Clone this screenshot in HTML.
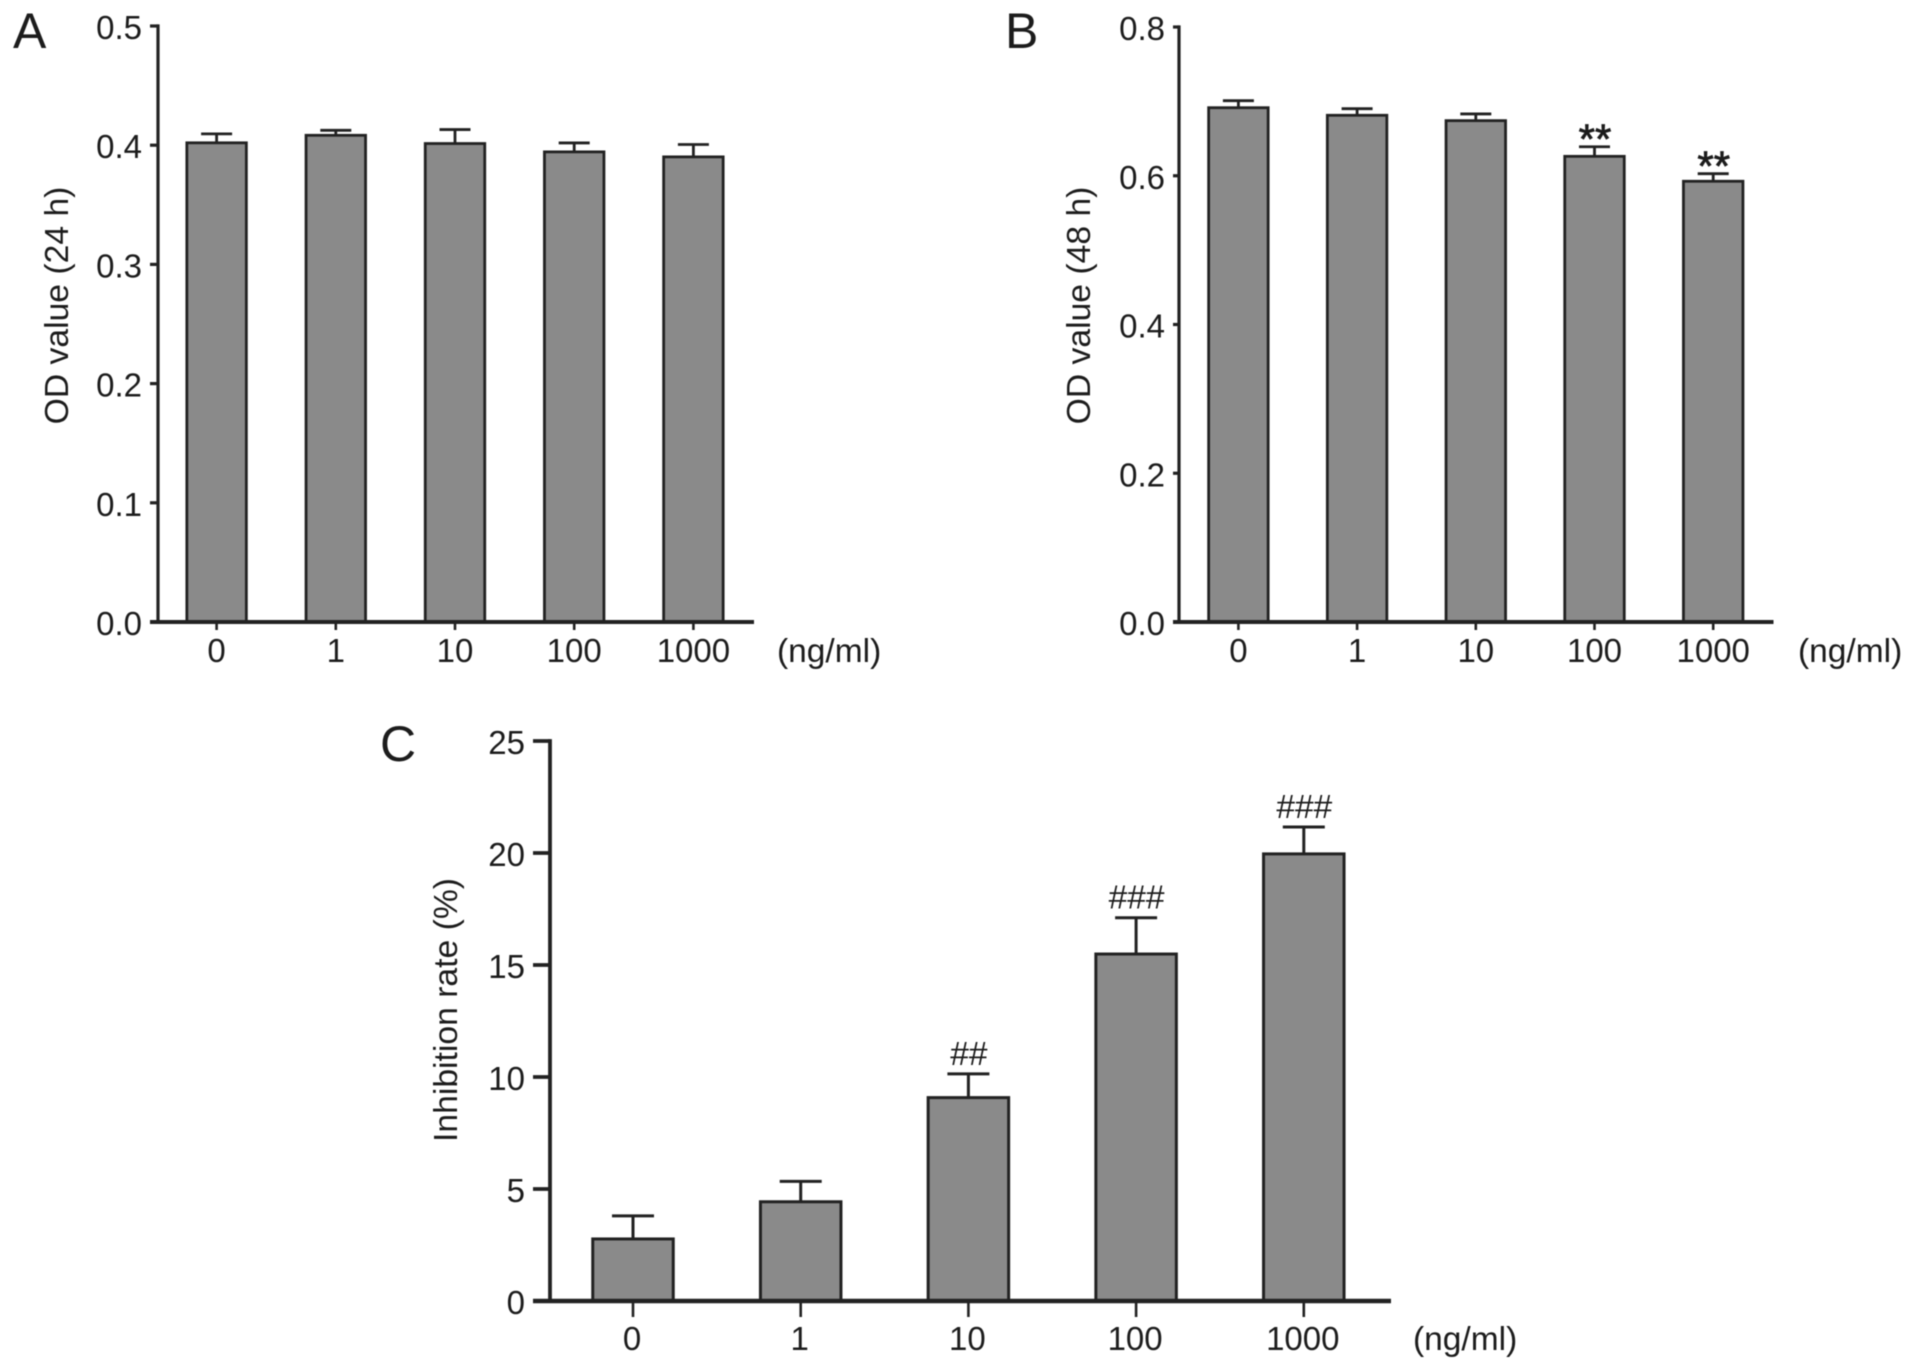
<!DOCTYPE html>
<html lang="en">
<head>
<meta charset="utf-8">
<title>OD value and inhibition rate bar charts</title>
<style>
html,body{margin:0;padding:0;background:#fff;}
svg{display:block;filter:blur(0.55px);}
text{font-family:"Liberation Sans",Arial,sans-serif;fill:#1c1c1c;}
</style>
</head>
<body>
<svg id="figure" xmlns="http://www.w3.org/2000/svg" width="1913" height="1370" viewBox="0 0 1913 1370">
  <rect x="0" y="0" width="1913" height="1370" fill="#ffffff"/>
  <text x="13" y="48" font-size="50">A</text>
  <text x="1005" y="48" font-size="50">B</text>
  <text x="380" y="761" font-size="50">C</text>
</svg>
<script>
const categories = ['0', '1', '10', '100', '1000'];

const aTicks = ['0.0', '0.1', '0.2', '0.3', '0.4', '0.5'];
const aValues = [0.402, 0.4083, 0.4014, 0.3944, 0.3902];
const aErrors = [0.0075, 0.0042, 0.0117, 0.0075, 0.0104];
const aMarks = ['', '', '', '', ''];

const bTicks = ['0.0', '0.2', '0.4', '0.6', '0.8'];
const bValues = [0.6915, 0.6813, 0.6741, 0.6261, 0.5926];
const bErrors = [0.0094, 0.0089, 0.009, 0.0129, 0.0102];
const bMarks = ['', '', '', '**', '**'];

const cTicks = ['0', '5', '10', '15', '20', '25'];
const cValues = [2.77, 4.43, 9.08, 15.49, 19.96];
const cErrors = [1.03, 0.91, 1.06, 1.62, 1.2];
const cMarks = ['', '', '##', '###', '###'];

const NS = 'http://www.w3.org/2000/svg';
const INK = '#222222';
const FILL = '#8a8a8a';
const fig = document.getElementById('figure');

function make(tag, props, parent) {
  const el = document.createElementNS(NS, tag);
  for (const k in props) el.setAttribute(k, props[k]);
  (parent || fig).appendChild(el);
  return el;
}

function drawPanel(id, cfg, ticks, values, errors, marks) {
  const g = make('g', {});
  
  

  const maxTick = parseFloat(ticks[ticks.length - 1]);
  const yScale = v => cfg.base - (v / maxTick) * (cfg.base - cfg.top);
  const xScale = i => cfg.firstX + i * cfg.stepX;

  // bars and error bars
  values.forEach((v, i) => {
    const x = xScale(i);
    const yTop = yScale(v);
    const yErr = yScale(v + errors[i]);

    const stem = make('line', {x1: x, x2: x, y1: yTop, y2: yErr, stroke: INK, 'stroke-width': cfg.lw}, g);
    
    

    const cap = make('line', {x1: x - cfg.capW / 2, x2: x + cfg.capW / 2, y1: yErr, y2: yErr, stroke: INK, 'stroke-width': cfg.lw}, g);
    
    

    const bar = make('rect', {x: x - cfg.barW / 2, y: yTop, width: cfg.barW, height: cfg.base - yTop, fill: FILL, stroke: INK, 'stroke-width': cfg.lw}, g);
    
    

    if (marks[i]) {
      const star = marks[i].charAt(0) === '*';
      const t = make('text', {x: x + 0.5, y: yErr + (star ? 7 : -9), 'font-size': star ? 42 : 33.5, 'text-anchor': 'middle'}, g);
      if (star) {
        t.setAttribute('stroke', '#1c1c1c');
        t.setAttribute('stroke-width', '0.8');
      }
      t.textContent = marks[i];
      
      
    }
  });

  // y axis
  const yAxis = make('line', {x1: cfg.axisX, x2: cfg.axisX, y1: cfg.top - cfg.awY / 2, y2: cfg.base, stroke: INK, 'stroke-width': cfg.awY}, g);
  
  

  ticks.forEach(label => {
    const y = yScale(parseFloat(label));
    const tick = make('line', {x1: cfg.axisX - cfg.tickL, x2: cfg.axisX, y1: y, y2: y, stroke: INK, 'stroke-width': cfg.awY}, g);
    
    

    const t = make('text', {x: cfg.yLabelX, y: y + 13, 'font-size': 33, 'text-anchor': 'end'}, g);
    t.textContent = label;
    
    
  });

  // x axis
  const xAxis = make('line', {x1: cfg.axisX - cfg.tickL, x2: cfg.axisEnd, y1: cfg.base, y2: cfg.base, stroke: INK, 'stroke-width': cfg.awX}, g);
  
  

  categories.forEach((c, i) => {
    const x = xScale(i);
    const tick = make('line', {x1: x, x2: x, y1: cfg.base, y2: cfg.base + cfg.xTickL, stroke: INK, 'stroke-width': 2.6}, g);
    
    

    const t = make('text', {x: x + cfg.labelShift, y: cfg.xLabelY, 'font-size': 33, 'text-anchor': 'middle'}, g);
    t.textContent = c;
    
    
  });

  const unit = make('text', {x: cfg.unitX, y: cfg.xLabelY, 'font-size': 33.5}, g);
  unit.textContent = '(ng/ml)';
  
  

  const title = make('text', {transform: 'translate(' + cfg.titleX + ' ' + cfg.titleY + ') rotate(-90)', 'font-size': 33.7, 'text-anchor': 'middle'}, g);
  title.textContent = cfg.title;
  
  
}

drawPanel('panel-a', {
  top: 26, base: 622, axisX: 158, axisEnd: 754, firstX: 216.6, stepX: 119.2, barW: 59.5, capW: 31,
  lw: 2.8, awY: 3.2, awX: 4, tickL: 8, xTickL: 8, yLabelX: 142, xLabelY: 662, unitX: 777, labelShift: 0,
  titleX: 68, titleY: 305.5, title: 'OD value (24 h)'
}, aTicks, aValues, aErrors, aMarks);

drawPanel('panel-b', {
  top: 27, base: 622, axisX: 1179, axisEnd: 1773.5, firstX: 1238.4, stepX: 118.7, barW: 59.5, capW: 31,
  lw: 2.8, awY: 3.2, awX: 4, tickL: 6, xTickL: 8, yLabelX: 1165, xLabelY: 662, unitX: 1798, labelShift: 0,
  titleX: 1090, titleY: 305.5, title: 'OD value (48 h)'
}, bTicks, bValues, bErrors, bMarks);

drawPanel('panel-c', {
  top: 741, base: 1301, axisX: 550, axisEnd: 1391, firstX: 633, stepX: 167.7, barW: 80.5, capW: 42,
  lw: 3, awY: 3.8, awX: 4.4, tickL: 17, xTickL: 16, yLabelX: 525, xLabelY: 1350, unitX: 1413, labelShift: -1,
  titleX: 457, titleY: 1010, title: 'Inhibition rate (%)'
}, cTicks, cValues, cErrors, cMarks);
</script>
</body>
</html>
